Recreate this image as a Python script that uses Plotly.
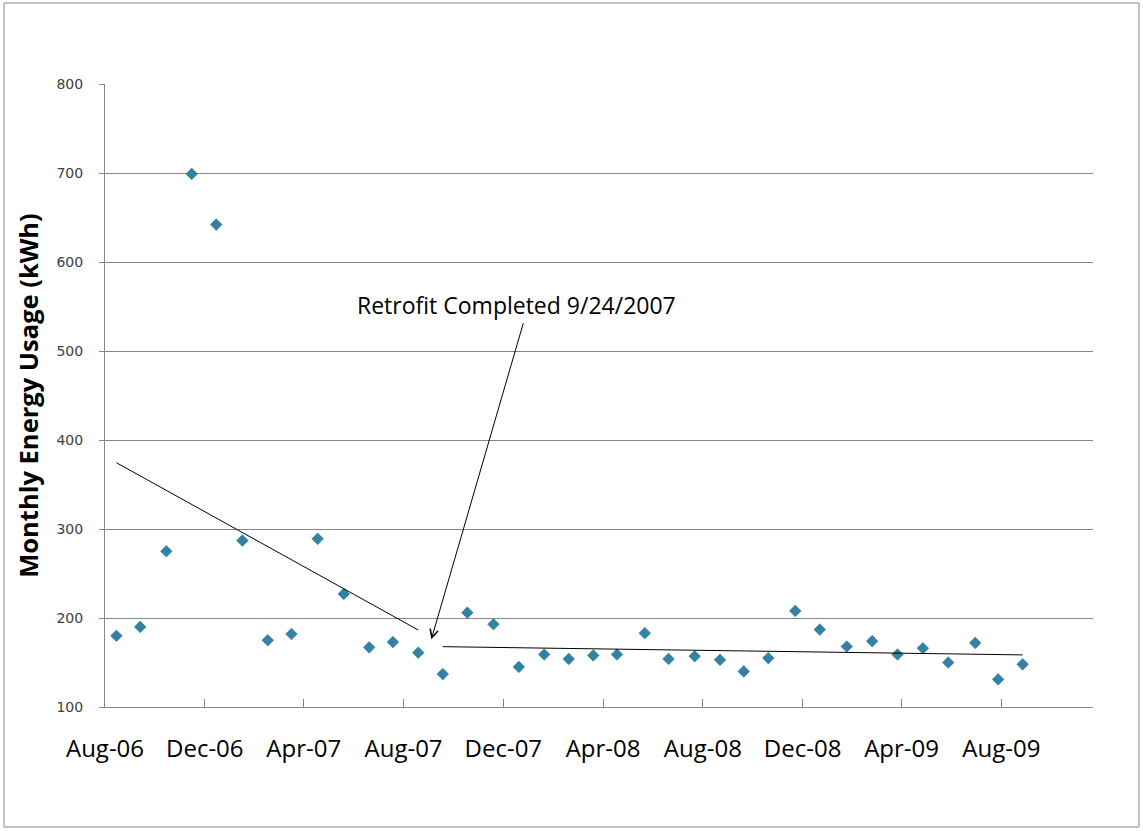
import numpy as np
import pandas as pd
import plotly.graph_objects as go

# ---- data ----
reading_dates = ["2006-08-15", "2006-09-13", "2006-10-15", "2006-11-15", "2006-12-15",
                 "2007-01-16", "2007-02-16", "2007-03-17", "2007-04-18", "2007-05-20",
                 "2007-06-20", "2007-07-19", "2007-08-19", "2007-09-18", "2007-10-18",
                 "2007-11-19", "2007-12-20", "2008-01-20", "2008-02-19", "2008-03-20",
                 "2008-04-18", "2008-05-22", "2008-06-20", "2008-07-22", "2008-08-22",
                 "2008-09-20", "2008-10-20", "2008-11-22", "2008-12-22", "2009-01-24",
                 "2009-02-24", "2009-03-27", "2009-04-27", "2009-05-28", "2009-06-30",
                 "2009-07-28", "2009-08-27"]
usage_kwh = [180, 190, 275, 699, 642, 287, 175, 182, 289, 227, 167, 173, 161,
             137, 206, 193, 145, 159, 154, 158, 159, 183, 154, 157, 153, 140,
             155, 208, 187, 168, 174, 159, 166, 150, 172, 131, 148]
pre_retrofit_count = 13  # readings before the retrofit

tick_dates = ["2006-08-01", "2006-12-01", "2007-04-01", "2007-08-01", "2007-12-01",
              "2008-04-01", "2008-08-01", "2008-12-01", "2009-04-01", "2009-08-01"]
tick_labels = ["Aug-06", "Dec-06", "Apr-07", "Aug-07", "Dec-07",
               "Apr-08", "Aug-08", "Dec-08", "Apr-09", "Aug-09"]

annotation_text = "Retrofit Completed 9/24/2007"

# ---- build figure ----
d = pd.to_datetime(pd.Series(reading_dates))
days = (d - d.iloc[0]).dt.total_seconds().to_numpy() / 86400.0
vals = np.array(usage_kwh, dtype=float)

fig = go.Figure()
fig.add_trace(go.Scatter(
    x=reading_dates, y=usage_kwh, mode="markers",
    marker=dict(symbol="diamond", size=9, color="#3282A5",
                line=dict(color="#2B6F8E", width=0.5)),
    showlegend=False, hoverinfo="x+y"))

def trend(seg):
    dd = days[seg]; vv = vals[seg]
    m, b = np.polyfit(dd, vv, 1)
    xs = [reading_dates[seg.start], reading_dates[seg.stop - 1]]
    ys = [m * dd[0] + b, m * dd[-1] + b]
    return xs, ys

for seg in (slice(0, pre_retrofit_count), slice(pre_retrofit_count, len(vals))):
    xs, ys = trend(seg)
    fig.add_trace(go.Scatter(x=xs, y=ys, mode="lines",
                             line=dict(color="black", width=1),
                             showlegend=False, hoverinfo="skip"))

# plot area geometry (pixels) for paper-coordinate border
W, H = 1143, 831
L, R, T, B = 105, 50, 84, 124
pw, ph = W - L - R, H - T - B
def px2paper_x(px): return (px - L) / pw
def px2paper_y(py): return (H - B - py) / ph

fig.add_shape(type="rect", xref="paper", yref="paper",
              x0=px2paper_x(4), x1=px2paper_x(1139),
              y0=px2paper_y(827), y1=px2paper_y(3),
              line=dict(color="#868686", width=1), layer="below")

fig.add_annotation(x="2007-09-04", y=176, ax="2007-12-26", ay=533,
                   xref="x", yref="y", axref="x", ayref="y",
                   text="", showarrow=True, arrowhead=5, arrowsize=1.6,
                   arrowwidth=1, arrowcolor="black")
fig.add_annotation(x="2007-12-17", y=552, xref="x", yref="y",
                   text=annotation_text, showarrow=False,
                   xanchor="center", yanchor="middle",
                   font=dict(family="Open Sans", size=23, color="black"))

fig.update_layout(
    width=W, height=H,
    margin=dict(l=L, r=R, t=T, b=B),
    paper_bgcolor="white", plot_bgcolor="white",
    showlegend=False,
    xaxis=dict(type="date", range=["2006-08-01", "2009-11-21"],
               tickvals=tick_dates, ticktext=tick_labels,
               ticks="inside", ticklen=8, tickcolor="#868686",
               showline=True, linecolor="#868686", linewidth=1,
               showgrid=False, zeroline=False, ticklabelstandoff=20,
               tickfont=dict(family="Open Sans", size=24, color="black")),
    yaxis=dict(range=[100, 800], dtick=100, tick0=100,
               ticks="outside", ticklen=5, tickcolor="#868686",
               showline=True, linecolor="#868686", linewidth=1,
               showgrid=True, gridcolor="#868686", gridwidth=1,
               zeroline=False, ticklabelstandoff=13,
               tickfont=dict(family="DejaVu Sans", size=14, color="#404040"),
               title=dict(text="<b>Monthly Energy Usage (kWh)</b>", standoff=10,
                          font=dict(family="Open Sans", size=25.5, color="black"))),
)

fig.write_html("out.html", config={"displayModeBar": False},
               post_script="document.body.style.margin='0';")
